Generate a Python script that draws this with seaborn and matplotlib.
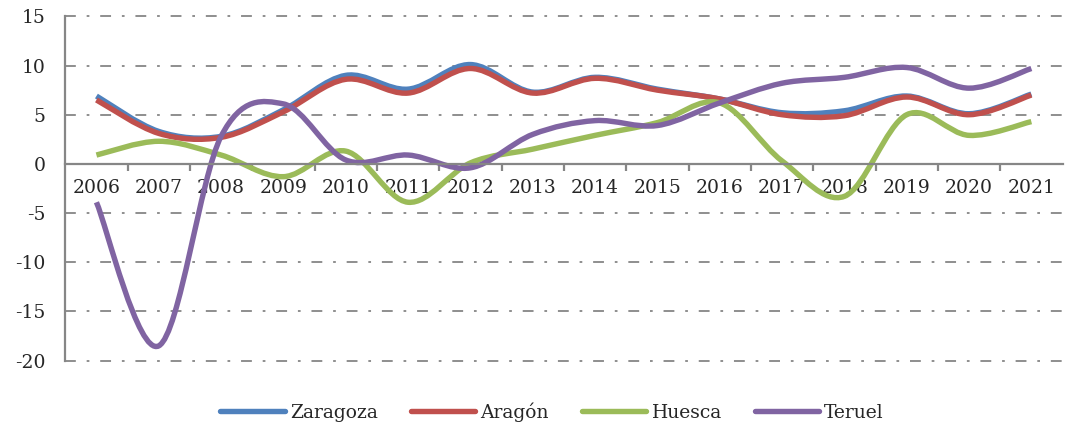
import numpy as np
import pandas as pd
import matplotlib
matplotlib.use("Agg")
import matplotlib.pyplot as plt
from matplotlib.path import Path
from matplotlib.patches import PathPatch
from matplotlib.lines import Line2D
import seaborn as sns

# ------------------------------------------------------------------
# Datos
# ------------------------------------------------------------------
years = list(range(2006, 2022))
zaragoza = [6.9, 3.3, 2.8, 5.5, 9.0, 7.6, 10.1, 7.3, 8.8, 7.6, 6.6, 5.2, 5.4, 6.9, 5.1, 7.1]
aragon = [6.5, 3.1, 2.7, 5.3, 8.6, 7.2, 9.7, 7.2, 8.7, 7.5, 6.6, 5.0, 4.9, 6.8, 5.0, 7.0]
huesca = [0.9, 2.3, 0.9, -1.3, 1.3, -3.9, 0.1, 1.5, 2.9, 4.2, 6.2, 0.3, -3.3, 5.0, 2.9, 4.3]
teruel = [-3.9, -18.5, 2.8, 6.1, 0.4, 0.9, -0.4, 3.0, 4.4, 3.9, 6.2, 8.2, 8.8, 9.8, 7.7, 9.7]

series = ["Zaragoza", "Aragón", "Huesca", "Teruel"]
colores = ["#4F81BD", "#C0504D", "#9BBB59", "#8064A2"]

df = pd.DataFrame({
    "Año": years * 4,
    "Valor": zaragoza + aragon + huesca + teruel,
    "Serie": np.repeat(series, len(years)),
})


def curva_suave(xy):
    # Curva Bezier tipo Catmull-Rom (como el "suavizado" de Excel)
    n = len(xy)
    verts = [tuple(xy[0])]
    codes = [Path.MOVETO]
    for i in range(n - 1):
        p0 = xy[i - 1] if i > 0 else xy[i]
        p1 = xy[i]
        p2 = xy[i + 1]
        p3 = xy[i + 2] if i + 2 < n else xy[i + 1]
        c1 = p1 + (p2 - p0) / 6.0
        c2 = p2 - (p3 - p1) / 6.0
        verts += [tuple(c1), tuple(c2), tuple(p2)]
        codes += [Path.CURVE4] * 3
    return Path(verts, codes)


# ------------------------------------------------------------------
# Gráfico
# ------------------------------------------------------------------
sns.set_theme(style="white")
plt.rcParams["font.family"] = ["DejaVu Serif", "Liberation Serif"]
plt.rcParams["axes.unicode_minus"] = False

fig = plt.figure(figsize=(10.7, 4.25), dpi=100)
ax = fig.add_axes([0.061, 0.148, 0.932, 0.817])

sns.lineplot(data=df, x="Año", y="Valor", hue="Serie",
             palette=dict(zip(series, colores)), linewidth=3.9,
             legend=False, ax=ax)

# sustituir las líneas rectas por curvas suavizadas
for line in list(ax.lines):
    xy = line.get_xydata()
    patch = PathPatch(curva_suave(xy), facecolor="none",
                      edgecolor=line.get_color(), lw=line.get_linewidth(),
                      capstyle="butt", joinstyle="round",
                      zorder=line.get_zorder())
    ax.add_patch(patch)
    line.set_visible(False)

gris = "#868686"
ax.set_xlim(2005.5, 2021.5)
ax.set_ylim(-20.15, 15.15)
ax.set_yticks(range(-20, 16, 5))
ax.set_xticks(years)
ax.set_xticks([y + 0.5 for y in years[:-1]], minor=True)
ax.set_xlabel("")
ax.set_ylabel("")

ax.yaxis.grid(True, color=gris, lw=1.3, ls=(0, (6, 6, 1.5, 6)), zorder=0)
ax.xaxis.grid(False)

for s in ["top", "right"]:
    ax.spines[s].set_visible(False)
ax.spines["left"].set_color(gris)
ax.spines["left"].set_linewidth(1.6)
ax.spines["left"].set_bounds(-20, 15)
ax.spines["bottom"].set_position(("data", 0))
ax.spines["bottom"].set_color(gris)
ax.spines["bottom"].set_linewidth(1.6)

ax.tick_params(axis="x", which="major", length=0, pad=11, labelsize=13.5)
ax.tick_params(axis="x", which="minor", length=5, width=1.6, color=gris,
               direction="out", bottom=True)
ax.tick_params(axis="y", length=0, pad=14, labelsize=13.5)

handles = [Line2D([0], [0], color=c, lw=3.9) for c in colores]
fig.legend(handles, series, loc="center", bbox_to_anchor=(0.516, 0.031),
           ncol=4, frameon=False, fontsize=13.5, handlelength=3.45,
           handletextpad=0.27, columnspacing=1.75)

fig.savefig("out.png", dpi=100)
